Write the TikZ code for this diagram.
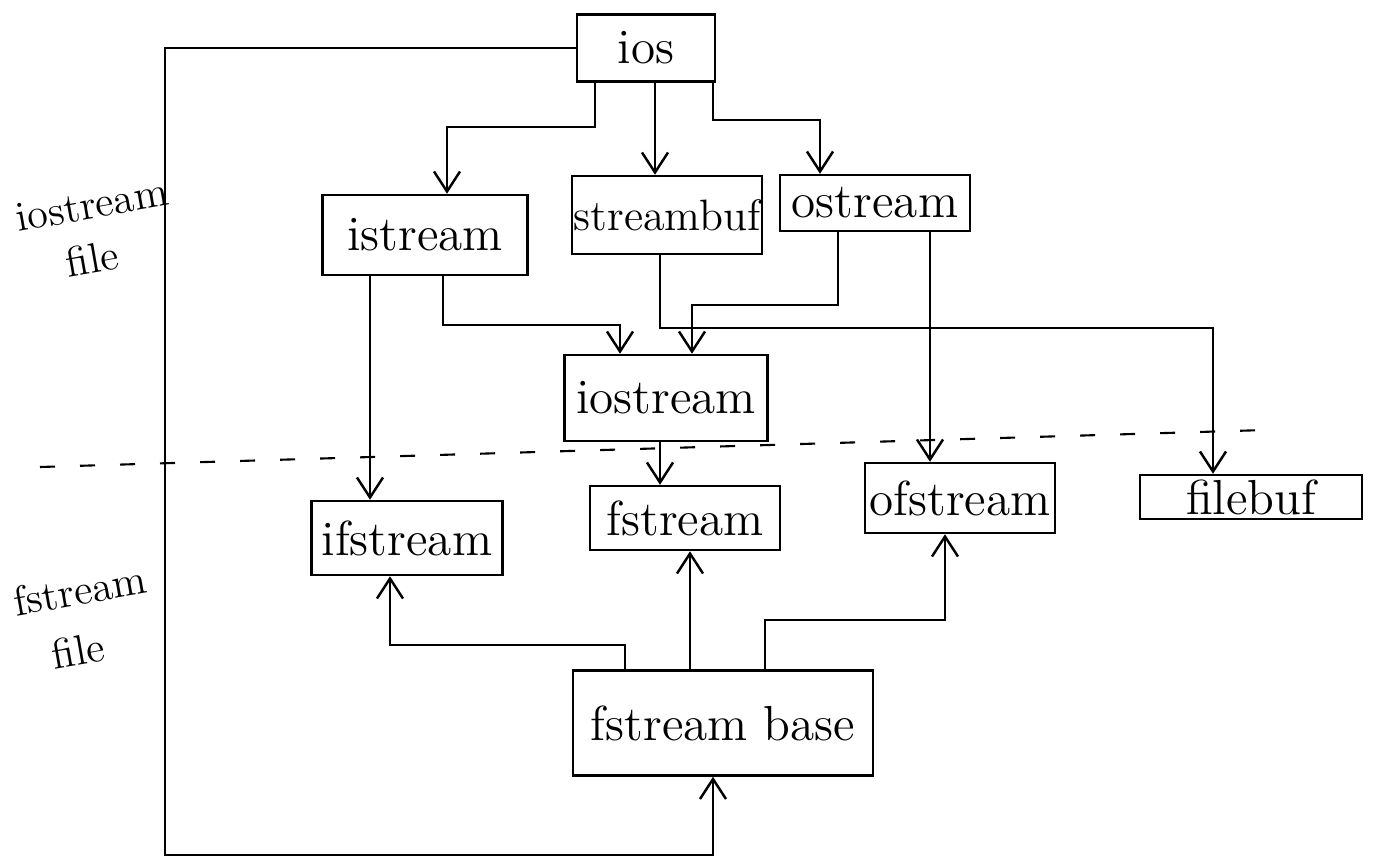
\documentclass[tikz,border=0pt]{standalone}
\usepackage{tikz}
\usetikzlibrary{arrows.meta}

\begin{document}
\begin{tikzpicture}[
        x=0.01cm, y=-0.01cm,
        cls/.style={rectangle, draw=black, line width=0.7pt, inner sep=0pt, font=\fontsize{14}{16}\selectfont},
        lbl/.style={inner sep=0pt, rotate=10, font=\fontsize{12}{14}\selectfont},
        arrow/.style={-{Straight Barb[length=2mm, width=2.6mm]}, line width=0.7pt},
        divider/.style={line width=0.6pt, dash pattern=on 1.5mm off 2.5mm}
    ]
        \useasboundingbox (0,0) rectangle (1378,863);

        % iostream side
        \node[cls, minimum width=1.38cm, minimum height=0.67cm] (ios) at (646,48) {ios};
        \node[cls, minimum width=2.05cm, minimum height=0.80cm] (istream) at (425,235) {istream};
        \node[cls, minimum width=1.90cm, minimum height=0.78cm, font=\fontsize{12.5}{15}\selectfont] (streambuf) at (667,215) {streambuf};
        \node[cls, minimum width=1.90cm, minimum height=0.56cm] (ostream) at (875,203) {ostream};
        \node[cls, minimum width=2.03cm, minimum height=0.86cm] (iostream) at (666,398) {iostream};

        % fstream side
        \node[cls, minimum width=1.91cm, minimum height=0.74cm] (ifstream) at (407,538) {ifstream};
        \node[cls, minimum width=1.90cm, minimum height=0.64cm] (fstream) at (685,518) {fstream};
        \node[cls, minimum width=1.90cm, minimum height=0.70cm] (ofstream) at (960,498) {ofstream};
        \node[cls, minimum width=2.22cm, minimum height=0.44cm] (filebuf) at (1251,497) {filebuf};
        \node[cls, minimum width=3.00cm, minimum height=1.05cm] (fsbase) at (723,723) {fstream base};

        % File labels
        \node[lbl] (iolbl) at (92,205) {iostream};
        \node[lbl] (iofile) at (92,258) {file};
        \node[lbl] (fslbl) at (80,590) {fstream};
        \node[lbl] (fsfile) at (78,650) {file};

        % Divider
        \coordinate (dashL) at (40,467);
        \coordinate (dashR) at (1265,430);
        \draw[divider] (dashL) -- (dashR);

        % Arrows
        \draw[arrow] (595,0 |- ios.south) -- (595,127) -| (447,0 |- istream.north);
        \draw[arrow] (655,0 |- ios.south) -- (655,0 |- streambuf.north);
        \draw[arrow] (713,0 |- ios.south) -- (713,120) -| (820,0 |- ostream.north);
        \draw[arrow] (443,0 |- istream.south) -- (443,325) -| (620,0 |- iostream.north);
        \draw[arrow] (838,0 |- ostream.south) -- (838,305) -| (692,0 |- iostream.north);
        \draw[arrow] (660,0 |- streambuf.south) -- (660,328) -| (1213,0 |- filebuf.north);
        \draw[arrow] (370,0 |- istream.south) -- (370,0 |- ifstream.north);
        \draw[arrow] (930,0 |- ostream.south) -- (930,0 |- ofstream.north);
        \draw[arrow] (660,0 |- iostream.south) -- (660,0 |- fstream.north);
        \draw[arrow] (625,0 |- fsbase.north) -- (625,645) -| (390,0 |- ifstream.south);
        \draw[arrow] (690,0 |- fsbase.north) -- (690,0 |- fstream.south);
        \draw[arrow] (765,0 |- fsbase.north) -- (765,620) -| (945,0 |- ofstream.south);
        \draw[arrow] (ios.west) -| (165,855) -| (713,0 |- fsbase.south);
    \end{tikzpicture}
\end{document}
